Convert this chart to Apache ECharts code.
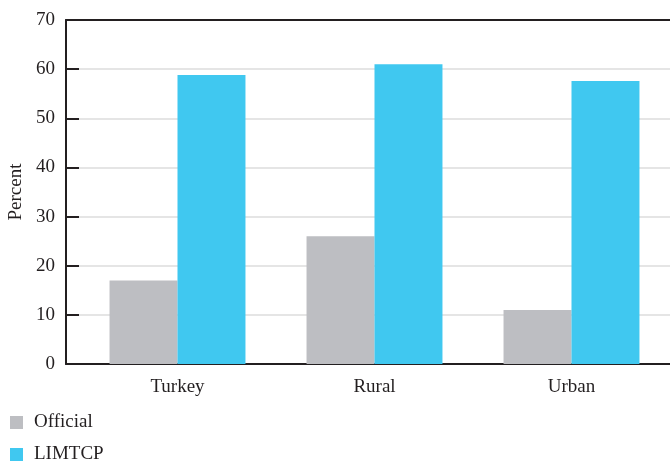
<!DOCTYPE html>
<html>
<head>
<meta charset="utf-8">
<script src="https://cdn.jsdelivr.net/npm/echarts@6/dist/echarts.min.js"></script>
<style>
html,body{margin:0;padding:0;background:#fff;}
#c{width:670px;height:464px;}
</style>
</head>
<body>
<div id="c"></div>
<script>
var categories = ['Turkey', 'Rural', 'Urban'];
var official = [17, 26, 11];
var limtcp = [58.8, 61, 57.6];
var yTicks = [0, 10, 20, 30, 40, 50, 60, 70];
var seriesNames = ['Official', 'LIMTCP'];

var FONT = '"Liberation Serif", "DejaVu Serif", serif';
var TXT = '#231f20';
var FS = 19;
function legendAt(name, top) {
  return {
    left: 5, top: top, orient: 'vertical',
    itemWidth: 13, itemHeight: 13, itemGap: 19, icon: 'rect',
    data: [name],
    textStyle: { fontFamily: FONT, fontSize: FS, color: TXT, padding: [2, 0, 0, 6] }
  };
}
var chart = echarts.init(document.getElementById('c'));
chart.setOption({
  animation: false,
  textStyle: { fontFamily: FONT },
  grid: [
    { left: 66, right: 0, top: 20, bottom: 100, containLabel: false, outerBoundsMode: 'none' },
    { left: 79, right: 0, top: 20, bottom: 100, containLabel: false, outerBoundsMode: 'none' }
  ],
  legend: [ legendAt(seriesNames[0], 408), legendAt(seriesNames[1], 440) ],
  xAxis: [
    { gridIndex: 0, type: 'category', data: categories,
      axisLine: { show: true, lineStyle: { color: TXT, width: 2 } },
      axisTick: { show: false }, axisLabel: { show: false }, splitLine: { show: false } },
    { gridIndex: 0, type: 'category', data: categories, position: 'top',
      axisLine: { show: true, lineStyle: { color: TXT, width: 2 } },
      axisTick: { show: false }, axisLabel: { show: false }, splitLine: { show: false } },
    { gridIndex: 1, type: 'category', data: categories,
      axisLine: { show: false }, axisTick: { show: false },
      axisLabel: { fontFamily: FONT, fontSize: FS, color: TXT, margin: 14 } }
  ],
  yAxis: [
    { gridIndex: 0, type: 'value', min: yTicks[0], max: yTicks[yTicks.length - 1], interval: 10,
      name: 'Percent', nameLocation: 'middle', nameGap: 38,
      nameTextStyle: { fontFamily: FONT, fontSize: FS, color: TXT },
      axisLine: { show: true, lineStyle: { color: TXT, width: 2 } },
      axisTick: { show: true, inside: true, length: 13, lineStyle: { color: TXT, width: 2 } },
      axisLabel: { fontFamily: FONT, fontSize: FS, color: TXT, margin: 11 },
      splitLine: { show: false } },
    { gridIndex: 1, type: 'value', min: yTicks[0], max: yTicks[yTicks.length - 1], interval: 10,
      axisLine: { show: false }, axisTick: { show: false }, axisLabel: { show: false },
      splitLine: { show: true, lineStyle: { color: '#dcdcdc', width: 1.5 } } }
  ],
  series: [
    { name: seriesNames[0], type: 'bar', xAxisIndex: 2, yAxisIndex: 1, data: official,
      itemStyle: { color: '#bdbec2' }, barGap: '0%', barCategoryGap: '31%' },
    { name: seriesNames[1], type: 'bar', xAxisIndex: 2, yAxisIndex: 1, data: limtcp,
      itemStyle: { color: '#40c8f0' }, barGap: '0%', barCategoryGap: '31%' }
  ]
});
</script>
</body>
</html>
